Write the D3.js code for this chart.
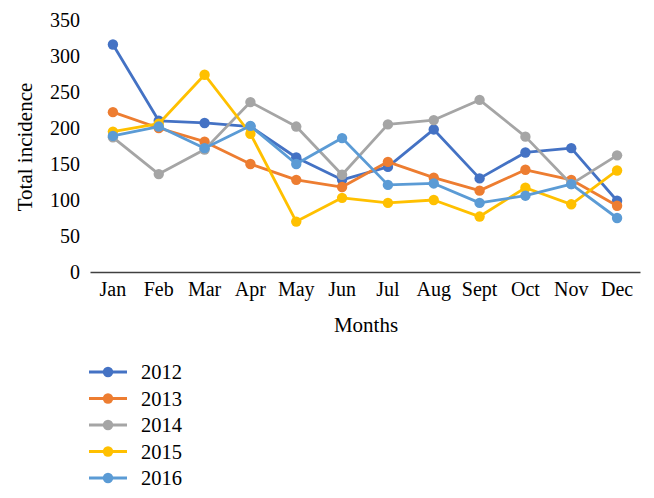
<!DOCTYPE html>
<meta charset="utf-8">
<style>
body { margin: 0; background: #fff; }
text { font-family: "Liberation Serif", "DejaVu Serif", serif; fill: #000; }
.series path { fill: none; stroke-width: 2.8px; stroke-linejoin: round; }
</style>
<svg width="654" height="498"></svg>
<script src="https://d3js.org/d3.v7.min.js"></script>
<script>
var months = ["Jan", "Feb", "Mar", "Apr", "May", "Jun", "Jul", "Aug", "Sept", "Oct", "Nov", "Dec"];
var years = ["2012", "2013", "2014", "2015", "2016"];
var colors = ["#4472C4", "#ED7D31", "#A5A5A5", "#FFC000", "#5B9BD5"];

var v2012 = [316, 210, 207, 202, 159, 128, 146, 198, 130, 166, 172, 99];
var v2013 = [222, 200, 181, 150, 128, 118, 153, 131, 113, 142, 128, 92];
var v2014 = [187, 136, 170, 236, 202, 135, 205, 211, 239, 188, 122, 162];
var v2015 = [195, 206, 274, 192, 70, 103, 96, 100, 77, 117, 94, 141];
var v2016 = [189, 202, 172, 203, 150, 186, 121, 123, 96, 106, 122, 75];
var yTicks = [0, 50, 100, 150, 200, 250, 300, 350];

var allValues = [v2012, v2013, v2014, v2015, v2016];

var svg = d3.select("svg");

var x = d3.scaleBand()
    .domain(months)
    .range([90, 640]);

var y = d3.scaleLinear()
    .domain([0, 350])
    .range([272, 20]);

// y tick labels, no axis line
var yAxis = svg.append("g")
    .attr("transform", "translate(80,0)")
    .call(d3.axisLeft(y).tickValues(yTicks).tickSize(0).tickPadding(0));
yAxis.attr("font-family", "Liberation Serif").attr("font-size", 20);
yAxis.select(".domain").remove();
yAxis.selectAll("text").attr("fill", "#000");

// x axis
var xAxis = svg.append("g")
    .attr("transform", "translate(0," + y(0) + ")")
    .call(d3.axisBottom(x).tickSize(0).tickPadding(10));
xAxis.attr("font-family", "Liberation Serif").attr("font-size", 20);
xAxis.select(".domain")
    .attr("stroke", "#404040")
    .attr("stroke-width", 1.5);
xAxis.selectAll("text").attr("fill", "#000");

svg.append("text")
    .attr("x", 366)
    .attr("y", 332)
    .attr("text-anchor", "middle")
    .attr("font-size", 21)
    .text("Months");

svg.append("text")
    .attr("transform", "translate(32,147) rotate(-90)")
    .attr("text-anchor", "middle")
    .attr("font-size", 21)
    .text("Total incidence");

var line = d3.line()
    .x(function(d, i) { return x(months[i]) + x.bandwidth() / 2; })
    .y(function(d) { return y(d); });

var series = svg.selectAll("g.series")
    .data(allValues)
    .enter().append("g")
    .attr("class", "series");

series.append("path")
    .attr("stroke", function(d, i) { return colors[i]; })
    .attr("d", line);

series.each(function(vals, k) {
  d3.select(this).selectAll("circle")
    .data(vals)
    .enter().append("circle")
    .attr("cx", function(d, i) { return x(months[i]) + x.bandwidth() / 2; })
    .attr("cy", function(d) { return y(d); })
    .attr("r", 5.2)
    .attr("fill", colors[k]);
});

// legend
var legend = svg.selectAll("g.legend")
    .data(years)
    .enter().append("g")
    .attr("class", "legend")
    .attr("transform", function(d, i) { return "translate(89," + (372 + i * 26.5) + ")"; });

legend.append("line")
    .attr("x1", 0).attr("x2", 38)
    .attr("stroke", function(d, i) { return colors[i]; })
    .attr("stroke-width", 2.8);

legend.append("circle")
    .attr("cx", 19)
    .attr("r", 5.2)
    .attr("fill", function(d, i) { return colors[i]; });

legend.append("text")
    .attr("x", 52)
    .attr("y", 7)
    .attr("font-size", 20.5)
    .text(function(d) { return d; });
</script>
